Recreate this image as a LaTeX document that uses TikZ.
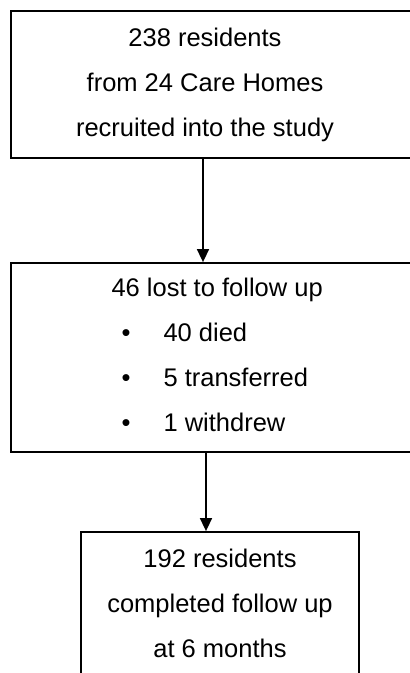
\documentclass[tikz,border=0pt]{standalone}
\usepackage{fontspec}
\setmainfont{Liberation Sans}
\usetikzlibrary{arrows.meta, positioning}

\begin{document}
\begin{tikzpicture}[x=1pt,y=-1pt,
    every node/.style={font=\fontsize{25.5}{45}\selectfont}]
  \tikzstyle{box}=[rectangle,draw=black,line width=1.8pt,inner sep=0pt]
  \tikzstyle{flow}=[-{Triangle[width=12pt,length=13pt]},line width=1.6pt]
  \useasboundingbox (0,0) rectangle (410,673);

  % Boxes
  \node[box, minimum width=419, minimum height=147] (recruited) at (220.5,84.5) {};
  \node[box, minimum width=419, minimum height=189] (lost) at (220.5,357.5) {};
  \node[box, minimum width=278, minimum height=188] (completed) at (220,626) {};

  % Texts
  \node[align=center] (recruitedtxt) at (205,85)
    {238 residents\\ from 24 Care Homes\\ recruited into the study};
  \node[align=left, anchor=west] (losttxt) at (108,355)
    {46 lost to follow up\\
     \makebox[52pt][l]{\hspace{10pt}•}40 died\\
     \makebox[52pt][l]{\hspace{10pt}•}5 transferred\\
     \makebox[52pt][l]{\hspace{10pt}•}1 withdrew};
  \node[align=center] (completedtxt) at (220,603)
    {\fontsize{25.5}{43.5}\selectfont 192 residents\\ completed follow up\\ at 6 months};

  % Arrows
  \coordinate (a1) at (203,0);
  \coordinate (a2) at (206,0);
  \draw[flow] (recruited.south -| a1) -- (lost.north -| a1);
  \draw[flow] (lost.south -| a2) -- (completed.north -| a2);
\end{tikzpicture}
\end{document}
